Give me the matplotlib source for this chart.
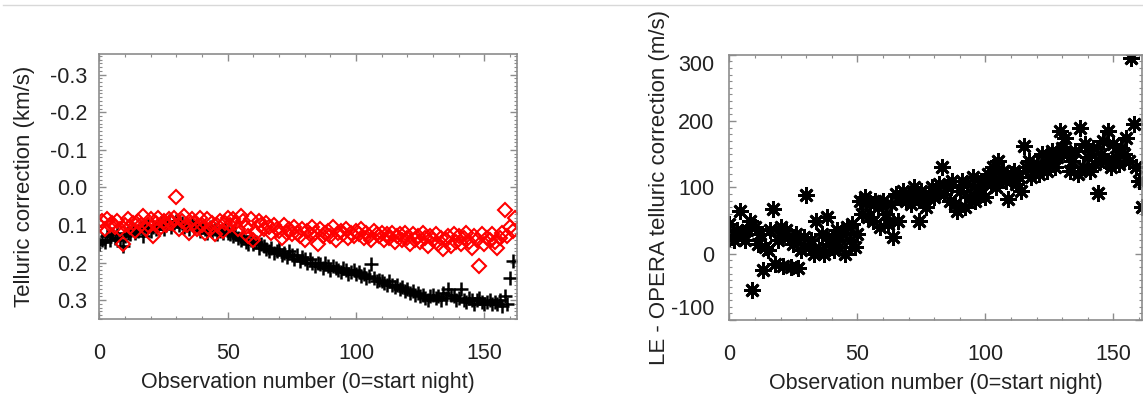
"""
Telluric correction per observation: two series (left) and the
LE - OPERA difference (right).
"""
import matplotlib
matplotlib.use("Agg")
import matplotlib.pyplot as plt
from matplotlib.lines import Line2D
from matplotlib.ticker import MultipleLocator
import numpy as np

plt.rcParams["font.family"] = ["Liberation Sans", "DejaVu Sans"]
plt.rcParams["axes.unicode_minus"] = False

# Left panel, black crosses (km/s)
telluric_black = [
    0.15, 0.14, 0.145, 0.13, 0.14, 0.125, 0.135, 0.12, 0.14, 0.155,
    0.13, 0.12, 0.125, 0.11, 0.12, 0.115, 0.105, 0.13, 0.11, 0.10,
    0.115, 0.105, 0.11, 0.10, 0.095, 0.11, 0.10, 0.09, 0.105, 0.095,
    0.09, 0.10, 0.095, 0.105, 0.10, 0.11, 0.095, 0.105, 0.10, 0.115,
    0.105, 0.11, 0.12, 0.105, 0.115, 0.11, 0.125, 0.115, 0.12, 0.11,
    0.12, 0.125, 0.13, 0.12, 0.135, 0.14, 0.13, 0.145, 0.15, 0.14,
    0.15, 0.145, 0.16, 0.15, 0.155, 0.165, 0.17, 0.16, 0.175, 0.17,
    0.165, 0.18, 0.175, 0.185, 0.17, 0.18, 0.19, 0.18, 0.195, 0.185,
    0.19, 0.20, 0.19, 0.20, 0.21, 0.20, 0.205, 0.215, 0.20, 0.21,
    0.22, 0.21, 0.215, 0.22, 0.225, 0.215, 0.22, 0.23, 0.225, 0.22,
    0.23, 0.225, 0.235, 0.23, 0.24, 0.235, 0.205, 0.24, 0.25, 0.245,
    0.25, 0.255, 0.26, 0.25, 0.26, 0.265, 0.26, 0.27, 0.265, 0.275,
    0.27, 0.28, 0.275, 0.285, 0.28, 0.29, 0.285, 0.295, 0.30, 0.29,
    0.285, 0.295, 0.29, 0.30, 0.28, 0.295, 0.27, 0.285, 0.29, 0.30,
    0.295, 0.27, 0.30, 0.305, 0.295, 0.30, 0.31, 0.30, 0.295, 0.305,
    0.31, 0.305, 0.30, 0.31, 0.305, 0.31, 0.30, 0.315, 0.29, 0.31,
    0.24, 0.195,
]

# Left panel, red diamonds (km/s)
telluric_red = [
    0.10, 0.09, 0.11, 0.085, 0.10, 0.095, 0.105, 0.09, 0.11, 0.15,
    0.10, 0.085, 0.105, 0.095, 0.115, 0.09, 0.10, 0.075, 0.11, 0.10,
    0.085, 0.13, 0.095, 0.08, 0.105, 0.09, 0.10, 0.085, 0.095, 0.08,
    0.025, 0.11, 0.09, 0.075, 0.10, 0.12, 0.085, 0.095, 0.11, 0.08,
    0.10, 0.12, 0.085, 0.11, 0.095, 0.125, 0.10, 0.09, 0.115, 0.095,
    0.08, 0.10, 0.085, 0.095, 0.11, 0.075, 0.09, 0.105, 0.13, 0.085,
    0.14, 0.12, 0.09, 0.10, 0.11, 0.095, 0.105, 0.12, 0.10, 0.11,
    0.115, 0.135, 0.10, 0.12, 0.11, 0.125, 0.105, 0.12, 0.13, 0.11,
    0.14, 0.115, 0.125, 0.105, 0.12, 0.15, 0.11, 0.13, 0.12, 0.115,
    0.13, 0.105, 0.14, 0.12, 0.115, 0.125, 0.11, 0.135, 0.12, 0.13,
    0.115, 0.125, 0.11, 0.135, 0.12, 0.13, 0.14, 0.115, 0.125, 0.13,
    0.12, 0.14, 0.125, 0.135, 0.12, 0.145, 0.13, 0.125, 0.14, 0.12,
    0.135, 0.15, 0.125, 0.14, 0.13, 0.145, 0.12, 0.135, 0.155, 0.13,
    0.14, 0.125, 0.15, 0.135, 0.165, 0.14, 0.13, 0.155, 0.125, 0.145,
    0.13, 0.15, 0.135, 0.12, 0.145, 0.16, 0.13, 0.14, 0.21, 0.125,
    0.15, 0.135, 0.14, 0.125, 0.145, 0.16, 0.135, 0.12, 0.06, 0.13,
    0.105, 0.115, 0.08,
]

# Right panel, LE - OPERA (m/s)
le_minus_opera = [
    45, 25, 20, 35, 65, 30, 20, 35, 50, -55,
    40, 15, 30, -25, 10, 5, 35, 68, -15, 20,
    40, -18, 35, 25, -20, 15, 30, -22, 5, 25,
    88, 10, 20, 0, 50, 5, 30, 0, 55, 15,
    25, 5, 35, 10, 30, 0, 40, 20, 45, 10,
    30, 80, 60, 85, 55, 75, 50, 80, 70, 40,
    80, 60, 45, 75, 25, 90, 50, 85, 95, 80,
    90, 75, 100, 85, 50, 95, 80, 70, 90, 100,
    85, 95, 105, 130, 90, 100, 80, 110, 75, 65,
    95, 110, 70, 105, 85, 115, 80, 100, 90, 110,
    85, 120, 105, 130, 100, 140, 115, 125, 110, 83,
    120, 125, 105, 115, 95, 162, 130, 140, 115, 125,
    135, 120, 150, 130, 125, 140, 155, 130, 145, 185,
    160, 175, 150, 125, 140, 155, 120, 190, 130, 165,
    145, 125, 160, 135, 92, 150, 170, 140, 185, 130,
    165, 145, 135, 160, 150, 175, 140, 295, 195, 130,
    110, 70,
]

x_label = "Observation number (0=start night)"
spine_grey = "#8c8c8c"
text_col = "#222222"


def style_axes(ax, ymajor, yminor):
    for sp in ax.spines.values():
        sp.set_color(spine_grey)
        sp.set_linewidth(1.2)
    ax.xaxis.set_major_locator(MultipleLocator(50))
    ax.xaxis.set_minor_locator(MultipleLocator(10))
    ax.yaxis.set_major_locator(MultipleLocator(ymajor))
    ax.yaxis.set_minor_locator(MultipleLocator(yminor))
    ax.tick_params(which="both", direction="in", top=True, right=True,
                   color=spine_grey, labelcolor=text_col, labelsize=15.5)
    ax.tick_params(which="major", length=5, width=1)
    ax.tick_params(which="minor", length=2.5, width=0.8)
    ax.tick_params(axis="x", pad=17)
    ax.set_xlabel(x_label, fontsize=15.5, color=text_col, labelpad=6)


fig = plt.figure(figsize=(11.43, 3.98), dpi=100)

# thin page rule at the top of the crop
fig.add_artist(Line2D([0.003, 1.0], [0.987, 0.987], color="#d8d8d8", lw=1))

ax1 = fig.add_axes([0.0870, 0.1985, 0.3653, 0.6658])
ax1.plot(np.arange(len(telluric_black)), telluric_black, ls="none",
         marker="+", ms=10.5, mew=1.8, color="black")
ax1.plot(np.arange(len(telluric_red)), telluric_red, ls="none",
         marker="D", ms=7, mew=1.5, mfc="none", mec="#ff0000")
ax1.set_xlim(0, 162.7)
ax1.set_ylim(0.35, -0.355)
style_axes(ax1, 0.1, 0.01)
ax1.tick_params(axis="y", pad=9)
ax1.yaxis.set_major_formatter(plt.FuncFormatter(lambda v, p: f"{v:.1f}".replace("-0.0", "0.0")))
ax1.set_ylabel("Telluric correction (km/s)", fontsize=16, color=text_col)
ax1.yaxis.set_label_coords(-0.154, 0.5)

ax2 = fig.add_axes([0.6381, 0.1960, 0.3611, 0.6666])
ax2.plot(np.arange(len(le_minus_opera)), le_minus_opera, ls="none",
         marker=(8, 2, 0), ms=12, mew=2.0, color="black")
ax2.set_xlim(0, 161.2)
ax2.set_ylim(-100, 300)
style_axes(ax2, 100, 10)
ax2.tick_params(axis="y", pad=11)
ax2.set_ylabel("LE - OPERA telluric correction (m/s)", fontsize=16,
               color=text_col)
ax2.yaxis.set_label_coords(-0.144, 0.5)
fig.canvas.draw()
for lab in ax2.get_yticklabels():
    if lab.get_text() == "300":
        lab.set_va("top")
    elif lab.get_text() in ("-100", "\u2212100"):
        lab.set_va("bottom")

fig.savefig("out.png", dpi=100)
